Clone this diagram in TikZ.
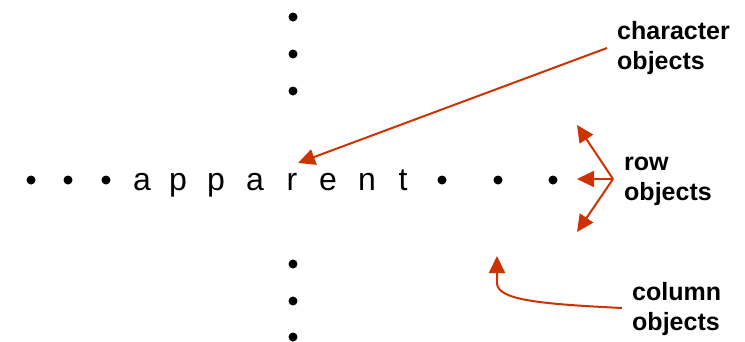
\documentclass[tikz,border=0pt]{standalone}
\usepackage{fontspec}
\setmainfont{Liberation Sans}
\usetikzlibrary{arrows.meta}
\definecolor{arr}{HTML}{CC3300}
\tikzset{
  dot/.style={circle,fill=black,inner sep=0pt,minimum size=9pt},
  letter/.style={font=\fontsize{32}{32}\selectfont,inner sep=0pt,anchor=base},
  lbl/.style={font=\bfseries\fontsize{25}{30}\selectfont,align=left,inner sep=0pt,anchor=base west},
  pointer/.style={draw=arr,line width=2pt,-{Triangle[length=17pt,width=16pt]}},
}
\begin{document}
\begin{tikzpicture}[x=1pt,y=-1pt]
\useasboundingbox (0,0) rectangle (745,341);
% vertical dots
\node[dot] (v1) at (293,17) {};
\node[dot] (v2) at (293,54) {};
\node[dot] (v3) at (293,91) {};
\node[dot] (v4) at (293,264) {};
\node[dot] (v5) at (293,301) {};
\node[dot] (v6) at (293,337) {};
% horizontal dots
\node[dot] (h1) at (31,180) {};
\node[dot] (h2) at (68,180) {};
\node[dot] (h3) at (106,180) {};
\node[dot] (h4) at (442,180) {};
\node[dot] (h5) at (498,180) {};
\node[dot] (h6) at (553,180) {};
% letters
\node[letter] (l1) at (142,190) {a};
\node[letter] (l2) at (178,190) {p};
\node[letter] (l3) at (216,190) {p};
\node[letter] (l4) at (255,190) {a};
\node[letter] (l5) at (292,190) {r};
\node[letter] (l6) at (328,190) {e};
\node[letter] (l7) at (367,190) {n};
\node[letter] (l8) at (403,190) {t};
% labels (anchored at the baseline of their last line)
\node[lbl] (char) at (617,69) {character\\objects};
\node[lbl] (row) at (624,200) {row\\objects};
\node[lbl] (col) at (632,330) {column\\objects};
% arrow anchors
\coordinate (cs) at (607,48);
\coordinate (ct) at (298,163);
\coordinate (ro) at (613,179);
\coordinate (ru) at (577,125);
\coordinate (rl) at (577,179);
\coordinate (rd) at (577,232);
\coordinate (cos) at (622,308);
\coordinate (cob) at (497,283);
\coordinate (cot) at (497,256);
% arrows
\draw[pointer] (cs) -- (ct);
\draw[pointer] (ro) -- (ru);
\draw[pointer] (ro) -- (rl);
\draw[pointer] (ro) -- (rd);
\draw[pointer] (cos) .. controls (540,304) and (497,300) .. (cob) -- (cot);
\end{tikzpicture}
\end{document}
